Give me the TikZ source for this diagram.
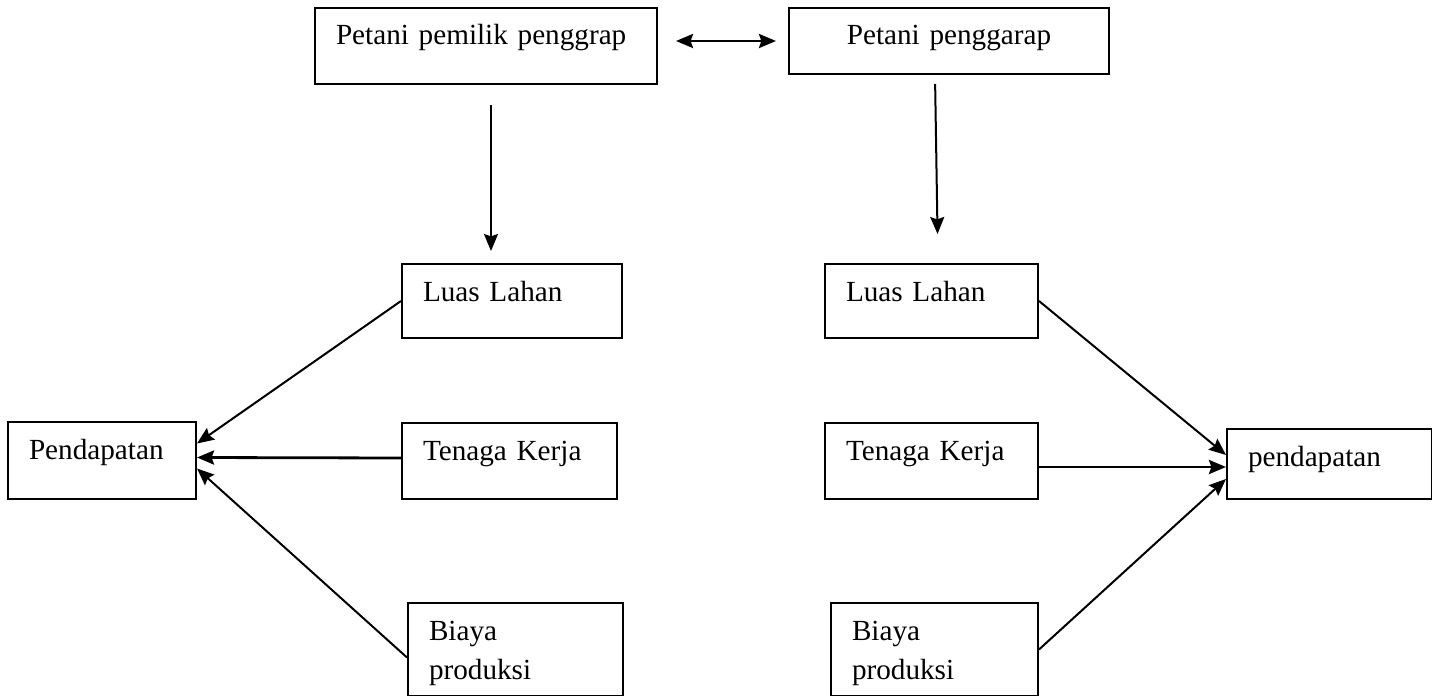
\documentclass[tikz,border=0pt]{standalone}
\usepackage{fontspec}
\setmainfont{Liberation Serif}
\usepackage{tikz}
\usetikzlibrary{arrows.meta,positioning,calc}

\begin{document}
\begin{tikzpicture}[
  x=0.5pt, y=-0.5pt,
  box/.style={rectangle, draw, line width=1pt, anchor=north west, align=left,
    font=\fontsize{14.6}{19.5}\selectfont, inner xsep=10.5pt, inner ysep=0pt, text height=18.5pt},
  arr/.style={-{Stealth[length=8.5pt,width=7pt,inset=1.2pt]}, line width=1pt},
  thickarr/.style={arr, line width=1.4pt}
]
  \useasboundingbox (0,0) rectangle (1432,696);

  % top row
  \node[box, text width=150pt, text depth=19.5pt] (OwnerFarmer) at (314,7) {Petani pemilik penggrap};
  \node[box, align=center, text width=139pt, text depth=14.5pt] (TenantFarmer) at (788,7) {Petani penggarap};

  % left side
  \node[box, text width=89pt, text depth=18.5pt] (LandL) at (401,263) {Luas Lahan};
  \node[box, text width=86.5pt, text depth=19.5pt] (LabourL) at (401,422) {Tenaga Kerja};
  \node[box, text width=86.5pt, text depth=28pt] (CostL) at (407,602) {Biaya\\produksi};
  \node[box, text width=73pt, text depth=20pt] (IncomeL) at (7,421) {Pendapatan};

  % right side
  \node[box, text width=85.5pt, text depth=18.5pt] (LandR) at (824,263) {Luas Lahan};
  \node[box, text width=85.5pt, text depth=19.5pt] (LabourR) at (824,422) {Tenaga Kerja};
  \node[box, text width=82.5pt, text depth=28pt] (CostR) at (830,602) {Biaya\\produksi};
  \node[box, text width=81.5pt, text depth=16.5pt] (IncomeR) at (1226,428) {pendapatan};

  \draw[thickarr, {Stealth[length=8.5pt,width=7pt,inset=1.2pt]}-{Stealth[length=8.5pt,width=7pt,inset=1.2pt]}, shorten <=9pt, shorten >=6pt]
    (OwnerFarmer.east |- TenantFarmer.west) -- (TenantFarmer.west);
  \draw[arr, shorten <=10pt, shorten >=6pt] ([xshift=2.5pt]OwnerFarmer.south) -- ([xshift=2.5pt]OwnerFarmer.south |- LandL.north);
  \draw[arr, shorten <=4.5pt, shorten >=14.5pt] ([xshift=-7pt]TenantFarmer.south) -- ([xshift=3.25pt]LandR.north);

  \draw[arr] (LandL.west) -- ([yshift=8.5pt]IncomeL.east);
  \draw[thickarr] ([yshift=1.5pt]LabourL.west) -- ([yshift=1.5pt]IncomeL.east);
  \draw[arr] ([yshift=-4pt]CostL.west) -- ([yshift=-4pt]IncomeL.east);

  \draw[arr] (LandR.east) -- ([yshift=4.5pt]IncomeR.west);
  \draw[thickarr] ([yshift=-3pt]LabourR.east) -- ([yshift=-1.5pt]IncomeR.west);
  \draw[arr] (CostR.east) -- ([yshift=-7.5pt]IncomeR.west);
\end{tikzpicture}
\end{document}
